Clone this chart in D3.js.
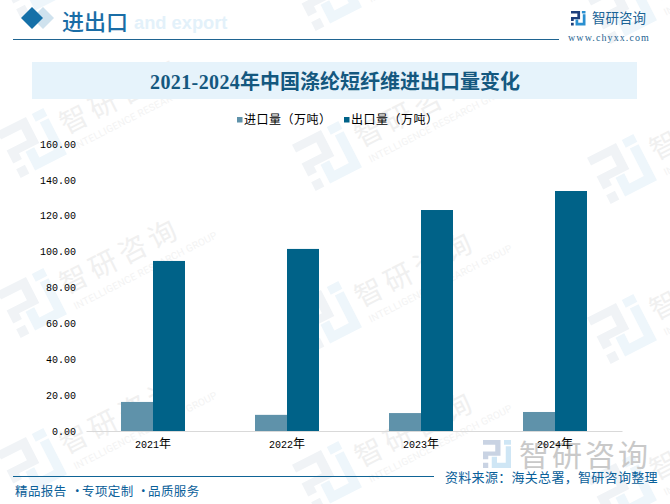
<!DOCTYPE html>
<html>
<head>
<meta charset="utf-8">
<script src="https://d3js.org/d3.v7.min.js"></script>
<style>
	body { margin: 0; background: #fff; }
	svg { display: block; }
	text { font-family: "Noto Sans CJK SC", sans-serif; }
</style>
</head>
<body>
<svg id="chart" width="670" height="504"></svg>
<script>
// chart values
var years = ["2021年", "2022年", "2023年", "2024年"];
var importValues = [16.2, 9.0, 10.0, 10.6];
var exportValues = [94.8, 101.5, 123.2, 133.8];
var yTicks = [0, 20, 40, 60, 80, 100, 120, 140, 160];
var seriesNames = ["进口量（万吨）", "出口量（万吨）"];
var seriesColors = ["#5f92aa", "#006288"];

var svg = d3.select("#chart");
var monoFont = '"Liberation Mono", monospace';

// the company mark, 16 units square
function drawLogo(parent, size, leftColor, rightColor) {
	var g = parent.append("g").attr("transform", "scale(" + size / 16 + ")");
	g.append("path").attr("fill", leftColor)
		.attr("d", "M0 0H10V9H3V11H0V6.5H7V2.7H0Z");
	g.append("rect").attr("fill", leftColor).attr("x", 0).attr("y", 13).attr("width", 3).attr("height", 3);
	g.append("path").attr("fill", rightColor)
		.attr("d", "M13 3.5H16V16H5V9.5H8V13H13Z");
	g.append("rect").attr("fill", rightColor).attr("x", 12).attr("y", 0).attr("width", 4).attr("height", 2.7);
	return g;
}

// background watermark, repeated over the whole page
var wmLayer = svg.append("g");
for (var col = 0; col < 3; col = col + 1) {
	for (var row = -1; row < 3; row = row + 1) {
		var wx = 32 + col * 295;
		var wy = 143 + col * 13 + row * 160;
		var wm = wmLayer.append("g").attr("transform", "translate(" + wx + "," + wy + ") rotate(-27)");
		var wmLogo = drawLogo(wm, 52, "#f0f3f6", "#eef6fb");
		wmLogo.attr("transform", "translate(-26,-26) scale(3.25)");
		wm.append("text")
			.attr("x", 34).attr("y", 8)
			.attr("font-size", 28).attr("letter-spacing", 5)
			.attr("fill", "#f0f0f0")
			.text("智研咨询");
		wm.append("text")
			.attr("x", 36).attr("y", 26)
			.attr("font-size", 10).attr("letter-spacing", 0.2)
			.style("font-family", "Roboto, sans-serif")
			.attr("fill", "#f3f3f3")
			.text("INTELLIGENCE RESEARCH GROUP");
	}
}

// header
svg.append("path").attr("fill", "#cfe2ee")
	.attr("d", d3.line()([[43, 7], [54, 18], [43, 29], [32, 18]]) + "Z");
svg.append("path").attr("fill", "#1570a8")
	.attr("d", d3.line()([[32, 7], [43, 18], [32, 29], [21, 18]]) + "Z");
svg.append("text")
	.attr("x", 134).attr("y", 29)
	.attr("font-size", 18.3).attr("font-weight", "bold")
	.style("font-family", '"Liberation Sans", sans-serif')
	.attr("fill", "#e3f1fa")
	.text("and export");
svg.append("text")
	.attr("x", 62).attr("y", 30)
	.attr("font-size", 22).attr("font-weight", 500)
	.attr("fill", "#1a6da6")
	.text("进出口");
svg.append("line")
	.attr("x1", 13).attr("x2", 559).attr("y1", 39.5).attr("y2", 39.5)
	.attr("stroke", "#1f6491");

// top right brand
var topLogo = svg.append("g").attr("transform", "translate(571,11)");
drawLogo(topLogo, 14.5, "#1d3f7c", "#2a8fd0");
svg.append("text")
	.attr("x", 592).attr("y", 23)
	.attr("font-size", 13.5)
	.attr("fill", "#1a6496")
	.text("智研咨询");
svg.append("text")
	.attr("x", 568).attr("y", 41)
	.attr("font-size", 10).attr("letter-spacing", 1.1)
	.style("font-family", '"Liberation Serif", serif')
	.attr("fill", "#1f6491")
	.text("www.chyxx.com");

// title band
svg.append("rect")
	.attr("x", 32).attr("y", 62).attr("width", 605).attr("height", 37)
	.attr("fill", "#e6f3fb");
var titleText = svg.append("text")
	.attr("x", 150).attr("y", 89)
	.attr("font-size", 20).attr("font-weight", "bold")
	.attr("fill", "#14587f");
titleText.append("tspan")
	.attr("letter-spacing", 0.4)
	.style("font-family", '"Liberation Serif", serif')
	.text("2021-2024");
titleText.append("tspan")
	.attr("x", 240)
	.text("年中国涤纶短纤维进出口量变化");

// legend
var legendX = [237, 344];
seriesNames.forEach(function(name, i) {
	svg.append("rect")
		.attr("x", legendX[i]).attr("y", 117)
		.attr("width", 5.5).attr("height", 5.5)
		.attr("fill", seriesColors[i]);
	svg.append("text")
		.attr("x", legendX[i] + 7).attr("y", 124)
		.attr("font-size", 12).attr("letter-spacing", 0.5)
		.attr("fill", "#000")
		.text(name);
});

// scales
var x = d3.scaleBand().domain(years).range([86, 622]);
var y = d3.scaleLinear().domain([0, 160]).range([431, 144]);
var barWidth = 32;

// axes
var yAxis = d3.axisLeft(y)
	.tickValues(yTicks)
	.tickSize(0)
	.tickPadding(10)
	.tickFormat(d3.format(".2f"));
var yG = svg.append("g").attr("transform", "translate(86,0)").call(yAxis);
yG.select(".domain").remove();
yG.selectAll("text")
	.attr("font-size", 10)
	.style("font-family", monoFont)
	.attr("fill", "#000");

var xAxis = d3.axisBottom(x).tickSize(0).tickPadding(10);
var xG = svg.append("g").attr("transform", "translate(0,431)").call(xAxis);
xG.select(".domain").attr("stroke", "#d9d9d9");

// bottom right brand sits under the year labels
var bigLogo = svg.append("g").attr("transform", "translate(483,440)");
drawLogo(bigLogo, 28, "#c9d3e3", "#cfe6f5");
svg.append("text")
	.attr("x", 519).attr("y", 466)
	.attr("font-size", 30).attr("letter-spacing", 3)
	.attr("fill", "#c9c9c9")
	.text("智研咨询");
xG.raise();

xG.selectAll("text").each(function(d) {
	var label = d3.select(this).text("");
	label.attr("fill", "#000");
	label.append("tspan")
		.attr("font-size", 10)
		.style("font-family", monoFont)
		.text(d.slice(0, 4));
	label.append("tspan")
		.attr("font-size", 12)
		.text(d.slice(4));
});

// bars
svg.append("g").selectAll("rect")
	.data(importValues)
	.join("rect")
	.attr("x", function(d, i) { return x(years[i]) + x.bandwidth() / 2 - barWidth; })
	.attr("y", function(d) { return y(d); })
	.attr("width", barWidth)
	.attr("height", function(d) { return y(0) - y(d); })
	.attr("fill", seriesColors[0]);

svg.append("g").selectAll("rect")
	.data(exportValues)
	.join("rect")
	.attr("x", function(d, i) { return x(years[i]) + x.bandwidth() / 2; })
	.attr("y", function(d) { return y(d); })
	.attr("width", barWidth)
	.attr("height", function(d) { return y(0) - y(d); })
	.attr("fill", seriesColors[1]);

// footer
svg.append("line")
	.attr("x1", 13).attr("x2", 434).attr("y1", 476.5).attr("y2", 476.5)
	.attr("stroke", "#0f6496");
var footerLeft = svg.append("text")
	.attr("y", 496)
	.attr("font-size", 12.5).attr("letter-spacing", 0.4)
	.attr("fill", "#0a6099");
footerLeft.append("tspan").attr("x", 15).text("精品报告");
footerLeft.append("tspan").attr("x", 71).text("·");
footerLeft.append("tspan").attr("x", 82).text("专项定制");
footerLeft.append("tspan").attr("x", 137).text("·");
footerLeft.append("tspan").attr("x", 148).text("品质服务");
svg.append("text")
	.attr("x", 445).attr("y", 482)
	.attr("font-size", 13).attr("letter-spacing", 0.3)
	.attr("fill", "#0a6099")
	.text("资料来源：海关总署，智研咨询整理");
</script>
</body>
</html>
